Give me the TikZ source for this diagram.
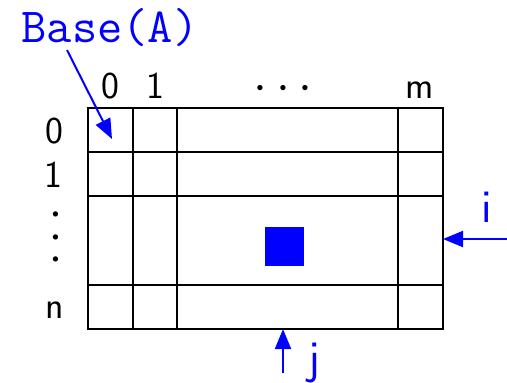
\documentclass[tikz,border=0pt]{standalone}
\usetikzlibrary{arrows.meta}

\begin{document}
\begin{tikzpicture}[x=0.5pt,y=-0.5pt,>={Triangle[length=10pt,width=8pt]},
  idx/.style={font=\sffamily\fontsize{19}{22}\selectfont,inner sep=0pt,anchor=base},
  var/.style={font=\sffamily\fontsize{23.5}{28}\selectfont,inner sep=0pt,anchor=base,blue},
  ptr/.style={blue,line width=1pt,->},
  cell/.style={line width=1.1pt}]
\useasboundingbox (0,0) rectangle (507,382);
% the array
\draw[cell] (88,108) rectangle (443,329);
\foreach \x in {133,177,398}
  \draw[cell] (\x,108) -- (\x,329);
\foreach \y in {152,196,285}
  \draw[cell] (88,\y) -- (443,\y);
\node[fill=blue,inner sep=0pt,minimum size=19.5pt] (elem) at (284.5,246.5) {};
% indices
\node[idx] (c0) at (110,98) {0};
\node[idx] (c1) at (155,98) {1};
\node[inner sep=0pt,font=\fontsize{23}{26}\selectfont] (cdots) at (283,89) {$\cdots$};
\node[idx] (cm) at (420,98) {m};
\node[idx] (r0) at (54,143) {0};
\node[idx] (r1) at (53,187) {1};
\node[inner sep=0pt,rotate=-90,font=\fontsize{25}{28}\selectfont] (rdots) at (55,237) {$\cdots$};
\node[idx] (rn) at (55,318) {n};
% pointers
\node[font=\ttfamily\fontsize{24.5}{28}\selectfont,blue,inner sep=0pt,anchor=base] (base) at (110,42) {Base(A)};
\coordinate (bstart) at (67,50);
\coordinate (a00) at (112,139);
\draw[ptr] (bstart) -- (a00);
\node[var] (ilab) at (487,222) {i};
\coordinate (istart) at (507,239);
\coordinate (iend) at (443,239);
\draw[ptr] (istart) -- (iend);
\node[var] (jlab) at (314,373) {j};
\coordinate (jstart) at (283,373);
\coordinate (jend) at (283,329);
\draw[ptr] (jstart) -- (jend);
\end{tikzpicture}
\end{document}
